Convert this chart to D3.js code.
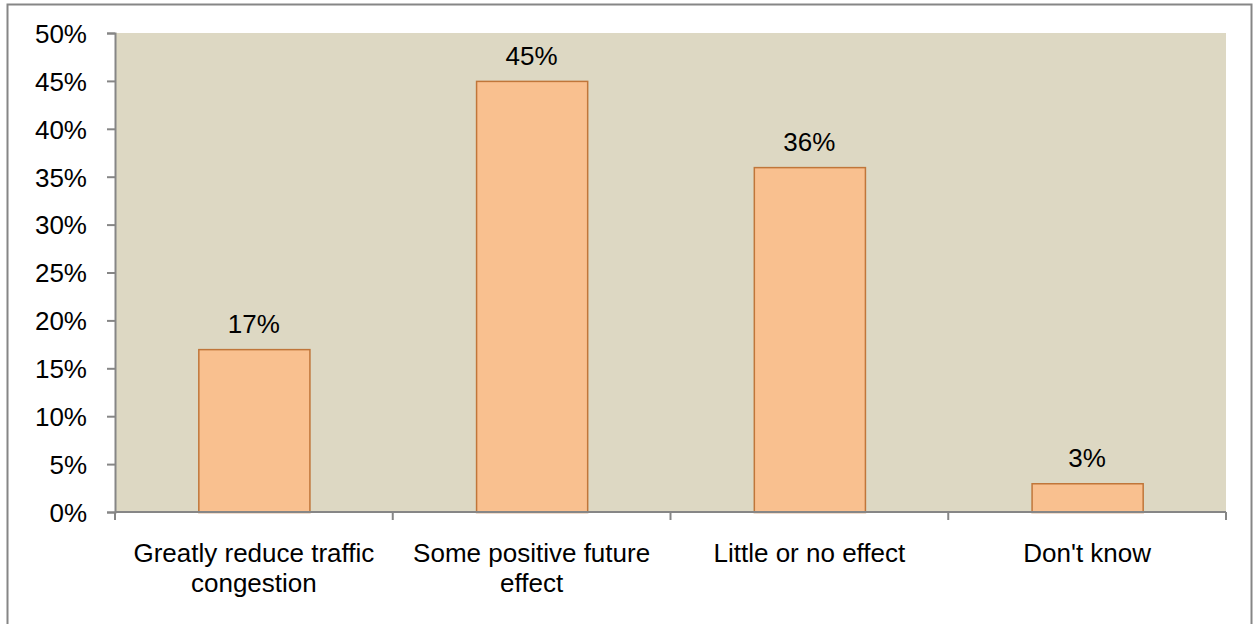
<!DOCTYPE html>
<html>
<head>
<meta charset="utf-8">
<script src="https://cdn.jsdelivr.net/npm/d3@7"></script>
<style>
  html, body { margin: 0; padding: 0; background: #fff; }
  svg { display: block; font-family: "Liberation Sans", Arial, sans-serif; }
</style>
</head>
<body>
<svg id="chart" width="1253" height="624"></svg>
<script>
// Survey responses: expected effect on traffic congestion
const categories = [
  ["Greatly reduce traffic", "congestion"],
  ["Some positive future", "effect"],
  ["Little or no effect"],
  ["Don't know"]
];
const values = [17, 45, 36, 3];
const yTicks = [0, 5, 10, 15, 20, 25, 30, 35, 40, 45, 50];

const svg = d3.select("#chart");
const W = 1253, H = 624;
const FONT = 26;
const plot = { left: 115, right: 1226, top: 33, bottom: 512 };

// outer chart frame
svg.append("rect")
  .attr("x", 7.5).attr("y", 4.5)
  .attr("width", W - 9).attr("height", H + 10)
  .attr("fill", "#fff").attr("stroke", "#868686").attr("stroke-width", 2);

const x = d3.scaleBand()
  .domain(d3.range(categories.length))
  .range([plot.left, plot.right])
  .paddingInner(0.6).paddingOuter(0.3);

const xBand = d3.scaleBand()
  .domain(d3.range(categories.length))
  .range([plot.left, plot.right]);

const y = d3.scaleLinear().domain([0, 50]).range([plot.bottom, plot.top]);

// plot background
svg.append("rect")
  .attr("x", plot.left).attr("y", plot.top)
  .attr("width", plot.right - plot.left).attr("height", plot.bottom - plot.top)
  .attr("fill", "#DDD8C3");

// bars
svg.selectAll("rect.bar").data(values).join("rect")
  .attr("class", "bar")
  .attr("x", (d, i) => x(i) + 0.5)
  .attr("y", d => y(d) + 0.5)
  .attr("width", x.bandwidth())
  .attr("height", d => y(0) - y(d))
  .attr("fill", "#F9C08F")
  .attr("stroke", "#C0763A")
  .attr("stroke-width", 1.5);

// value labels
svg.selectAll("text.val").data(values).join("text")
  .attr("class", "val")
  .attr("x", (d, i) => x(i) + x.bandwidth() / 2)
  .attr("y", d => y(d) - 16)
  .attr("text-anchor", "middle")
  .attr("font-size", FONT)
  .attr("fill", "#000")
  .text(d => d + "%");

// y axis
const yAxis = d3.axisLeft(y)
  .tickValues(yTicks)
  .tickSize(8)
  .tickPadding(20)
  .tickFormat(d => d + "%");
const gy = svg.append("g")
  .attr("transform", `translate(${plot.left},0)`)
  .call(yAxis);
gy.attr("font-size", FONT).attr("font-family", "Liberation Sans, Arial, sans-serif");
gy.select(".domain").attr("stroke", "#868686").attr("stroke-width", 2);
gy.selectAll(".tick line").attr("stroke", "#868686").attr("stroke-width", 2);
gy.selectAll(".tick text")
  .attr("fill", "#000")
  .attr("dy", "0.36em");

// x axis baseline and category separators
const gx = svg.append("g");
gx.append("line")
  .attr("x1", plot.left).attr("x2", plot.right)
  .attr("y1", plot.bottom).attr("y2", plot.bottom)
  .attr("stroke", "#868686").attr("stroke-width", 2);
const sepPositions = d3.range(categories.length + 1)
  .map(i => i < categories.length ? xBand(i) : xBand(i - 1) + xBand.bandwidth());
gx.selectAll("line.sep").data(sepPositions).join("line")
  .attr("class", "sep")
  .attr("x1", d => d).attr("x2", d => d)
  .attr("y1", plot.bottom).attr("y2", plot.bottom + 8)
  .attr("stroke", "#868686").attr("stroke-width", 2);

// category labels
const cat = svg.selectAll("text.cat").data(categories).join("text")
  .attr("class", "cat")
  .attr("text-anchor", "middle")
  .attr("font-size", FONT)
  .attr("fill", "#000");
cat.selectAll("tspan").data((d, i) => d.map(s => ({ s, i }))).join("tspan")
  .attr("x", d => xBand(d.i) + xBand.bandwidth() / 2)
  .attr("y", (d, j) => 562 + j * 30)
  .text(d => d.s);
</script>
</body>
</html>
